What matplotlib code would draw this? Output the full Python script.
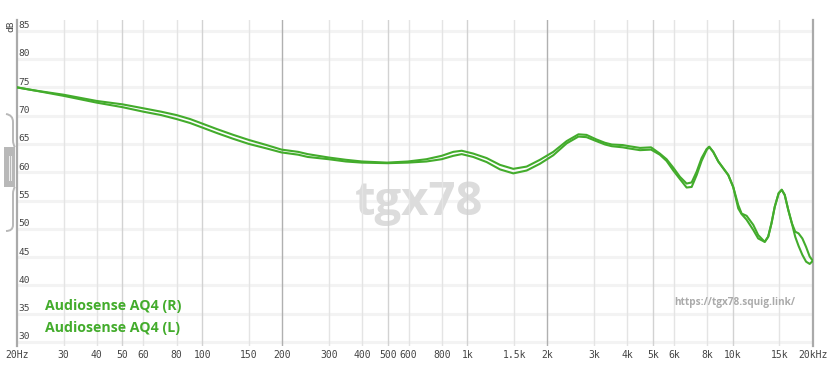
import numpy as np
import matplotlib
matplotlib.use('Agg')
import matplotlib.pyplot as plt
from matplotlib.path import Path
from matplotlib.patches import PathPatch, Rectangle
import matplotlib.transforms as mtransforms

W, H = 828, 381

# frequency points (Hz)
freq = [20, 23, 30, 40, 50, 60, 70, 80, 90, 100, 114, 131, 150, 175, 199, 230,
        250, 300, 348, 400, 498, 596, 700, 799, 884, 951, 1051, 1181, 1326, 1488,
        1671, 1876, 2106, 2365, 2620, 2810, 3060, 3300, 3500, 3850, 4070, 4470,
        4920, 5310, 5630, 5970, 6320, 6700, 7000, 7310, 7630, 7970, 8150, 8440,
        8820, 9210, 9620, 10040, 10490, 10800, 11280, 11950, 12470, 13200, 13600,
        14000, 14400, 14900, 15300, 15700, 16200, 16700, 17200, 17700, 18300,
        18900, 19500, 20000]

aq4_r = [75.0, 74.5, 73.7, 72.6, 72.0, 71.3, 70.7, 70.1, 69.4, 68.6, 67.6, 66.6,
         65.7, 64.8, 64.0, 63.6, 63.2, 62.6, 62.2, 61.9, 61.7, 61.9, 62.3, 62.9,
         63.6, 63.8, 63.3, 62.5, 61.3, 60.6, 61.0, 62.2, 63.6, 65.5, 66.7, 66.6,
         65.8, 65.2, 64.9, 64.8, 64.6, 64.3, 64.4, 63.3, 62.3, 60.8, 59.2, 58.0,
         58.2, 60.1, 62.5, 64.1, 64.5, 63.6, 61.9, 60.7, 59.5, 57.4, 54.2, 52.7,
         52.3, 50.7, 48.9, 47.7, 48.6, 51.0, 53.9, 56.3, 56.9, 56.0, 53.3, 51.0,
         49.5, 49.2, 48.3, 46.8, 45.1, 44.4]

aq4_l = [75.0, 74.5, 73.5, 72.3, 71.5, 70.7, 70.1, 69.4, 68.7, 67.9, 66.9, 65.9,
         65.0, 64.2, 63.5, 63.1, 62.7, 62.3, 61.9, 61.7, 61.6, 61.7, 61.9, 62.3,
         62.9, 63.2, 62.7, 61.8, 60.5, 59.8, 60.3, 61.5, 63.0, 65.1, 66.3, 66.2,
         65.5, 64.9, 64.6, 64.4, 64.2, 63.9, 64.0, 63.1, 62.0, 60.3, 58.8, 57.3,
         57.4, 59.5, 62.0, 63.9, 64.5, 63.6, 61.9, 60.7, 59.5, 57.4, 53.6, 52.6,
         51.6, 49.8, 48.3, 47.7, 48.6, 51.0, 53.9, 56.3, 56.9, 56.0, 53.3, 51.0,
         48.6, 47.0, 45.4, 44.2, 43.8, 44.3]

legend_names = ['Audiosense AQ4 (R)', 'Audiosense AQ4 (L)']

x_ticks = [20, 30, 40, 50, 60, 80, 100, 150, 200, 300, 400, 500, 600, 800,
           1000, 1500, 2000, 3000, 4000, 5000, 6000, 8000, 10000, 15000, 20000]
x_labels = ['20Hz', '30', '40', '50', '60', '80', '100', '150', '200', '300',
            '400', '500', '600', '800', '1k', '1.5k', '2k', '3k', '4k', '5k',
            '6k', '8k', '10k', '15k', '20kHz']
y_ticks = [30, 35, 40, 45, 50, 55, 60, 65, 70, 75, 80, 85]

green = '#43ac2c'

fig = plt.figure(figsize=(W / 100, H / 100), dpi=100)
ax = fig.add_axes([16.8 / W, 1 - 345.7 / H, (812.6 - 16.8) / W, (345.7 - 20) / H])
ax.set_xscale('log')
ax.set_xlim(20, 20000)
ax.set_ylim(29.35, 86.9)
ax.set_xticks([])
ax.set_yticks([])
ax.minorticks_off()
for s in ['top', 'bottom']:
    ax.spines[s].set_visible(False)
for s in ['left', 'right']:
    ax.spines[s].set_color('#aaaaaa')
    ax.spines[s].set_linewidth(1.6)

# horizontal grid
for y in y_ticks:
    ax.axhline(y, color='#f3f3f3', lw=2.2, zorder=1)

# vertical grid
for f in x_ticks[1:-1]:
    if f in (200, 2000):
        c = '#b0b0b0'
    elif f in (100, 1000, 10000, 50, 500, 5000):
        c = '#d2d2d2'
    else:
        c = '#e4e4e4'
    ax.axvline(f, color=c, lw=1.0, zorder=2)

# watermark
ax.text(656, 54.6, 'tgx78', fontsize=34, fontweight='bold', family='Open Sans',
        color='#dcdcdc', ha='center', va='center', zorder=1.5)

# tick labels
trans_x = mtransforms.blended_transform_factory(ax.transData, ax.transAxes)
for f, lab in zip(x_ticks, x_labels):
    ax.text(f, -0.029, lab, transform=trans_x, ha='center', va='center',
            fontsize=7, family='DejaVu Sans Mono', color='#444444', clip_on=False)

trans_y = mtransforms.blended_transform_factory(ax.transAxes, ax.transData)
for y in y_ticks:
    ax.text(0.002, y + 0.9, str(y), transform=trans_y, ha='left', va='center',
            fontsize=6.8, family='DejaVu Sans Mono', color='#444444')
fig.text(10.5 / W, 1 - 26 / H, 'dB', rotation=90, ha='center', va='center',
         fontsize=6.8, family='DejaVu Sans Mono', color='#444444')

# curves
ax.plot(freq, aq4_r, color=green, lw=1.5, zorder=5, solid_capstyle='round',
        solid_joinstyle='round')
ax.plot(freq, aq4_l, color=green, lw=1.5, zorder=5, solid_capstyle='round',
        solid_joinstyle='round')

# legend text
for i, name in enumerate(legend_names):
    fig.text(45 / W, 1 - (306 + 22 * i) / H, name, ha='left', va='center',
             fontsize=10.2, fontweight='bold', family='Open Sans', color=green)

fig.text(795 / W, 1 - 303 / H, 'https://tgx78.squig.link/', ha='right', va='center',
         fontsize=7.2, fontweight='bold', family='Open Sans', color='#aaaaaa')


# scroll bracket on the left
def px(x, y):
    return (x / W, 1 - y / H)


verts = [px(6, 114), px(13, 115), px(13, 122), px(13, 140), px(13, 145), px(15, 147),
         px(15, 187), px(13, 189), px(13, 194), px(13, 225), px(13, 231), px(6, 231)]
codes = [Path.MOVETO, Path.CURVE3, Path.CURVE3, Path.LINETO, Path.CURVE3, Path.CURVE3,
         Path.MOVETO, Path.CURVE3, Path.CURVE3, Path.LINETO, Path.CURVE3, Path.CURVE3]
fig.patches.append(PathPatch(Path(verts, codes), transform=fig.transFigure,
                             fill=False, edgecolor='#b8b8b8', lw=1.4))
x0, y0 = px(4, 187)
x1, y1 = px(15.5, 147)
fig.patches.append(Rectangle((x0, y0), x1 - x0, y1 - y0, transform=fig.transFigure,
                             facecolor='#b8b8b8', edgecolor='none'))
for xx in (8.5, 11):
    a = px(xx, 156)
    b = px(xx, 180)
    fig.lines.append(plt.Line2D([a[0], b[0]], [a[1], b[1]], transform=fig.transFigure,
                                color='#eeeeee', lw=0.7))

fig.savefig('out.png', dpi=100, facecolor='white')
